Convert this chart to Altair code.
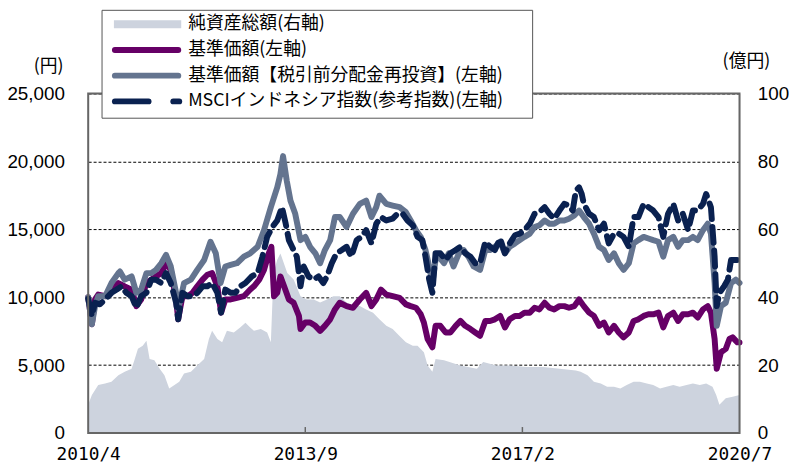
import altair as alt
import pandas as pd

# ---------------- data ----------------
x_ticks = [0, 41, 82, 123]                      # months since 2010/4
x_labels = ["2010/4", "2013/9", "2017/2", "2020/7"]
left_ticks = [0, 5000, 10000, 15000, 20000, 25000]
right_ticks = [0, 20, 40, 60, 80, 100]
series_names = ["純資産総額(右軸)", "基準価額(左軸)",
                "基準価額【税引前分配金再投資】(左軸)",
                "MSCIインドネシア指数(参考指数)(左軸)"]
left_unit = "(円)"
right_unit = "(億円)"

# 純資産総額 (億円)
assets_t = [0, 0.7, 1.9, 3.2, 4.4, 5.7, 6.9, 8.2, 8.8, 9.4,
            10.3, 11.0, 11.6, 12.5, 13.5, 14.4, 15.3, 16.3, 17.2, 18.1,
            19.4, 20.6, 21.9, 22.8, 23.4, 24.4, 25.3, 26.2, 27.5, 28.7,
            29.7, 30.6, 31.3, 32.6, 33.8, 34.5, 35.0, 35.7, 36.3, 37.6,
            38.8, 40.1, 41.3, 42.6, 43.8, 45.1, 46.3, 47.5, 48.8, 50.0,
            51.3, 52.5, 53.8, 55.0, 56.3, 57.5, 58.8, 60.0, 61.3, 62.2,
            63.4, 64.1, 65.0, 65.6, 67.2, 70.3, 73.4, 74.6, 77.1, 79.6,
            82.7, 85.9, 89.0, 92.1, 93.0, 94.3, 95.5, 96.8, 98.0, 99.3,
            100.5, 101.7, 103.0, 104.2, 105.5, 106.7, 108.0, 109.2, 110.5, 111.7,
            113.0, 114.2, 115.5, 116.7, 117.9, 118.6, 119.2, 120.4, 121.7, 123.0]
assets_v = [8.3, 11.2, 14.1, 14.6, 15.1, 17.0, 18.0, 18.9, 21.8, 24.8,
            25.7, 27.2, 21.8, 21.4, 18.9, 17.0, 13.1, 14.1, 15.1, 17.5,
            18.0, 19.9, 21.8, 27.7, 30.1, 27.7, 26.7, 30.1, 29.6, 31.1,
            32.5, 31.1, 30.1, 30.6, 29.6, 26.7, 47.1, 51.0, 52.9, 47.1,
            45.2, 40.3, 39.3, 39.3, 38.4, 39.3, 40.3, 40.3, 38.4, 37.4,
            37.4, 36.4, 35.4, 33.5, 31.6, 30.6, 28.6, 26.7, 25.7, 25.7,
            23.8, 19.9, 18.0, 21.8, 21.4, 19.9, 18.9, 20.9, 19.9, 19.9,
            19.4, 19.4, 18.9, 18.4, 18.0, 17.0, 15.1, 14.6, 13.6, 13.6,
            13.1, 14.1, 15.1, 15.1, 14.6, 14.1, 13.1, 13.6, 14.1, 13.6,
            14.1, 14.6, 14.1, 14.6, 13.6, 11.2, 8.3, 10.2, 10.7, 11.2]

# 基準価額 (円)
nav_t = [0, 0.7, 1.3, 1.9, 3.2, 4.4, 5.7, 6.9, 8.2, 9.1,
         10.0, 11.0, 11.9, 12.8, 13.8, 14.7, 15.6, 16.6, 17.0, 17.8,
         18.8, 19.7, 20.6, 21.6, 22.5, 23.4, 24.4, 25.1, 25.9, 26.9,
         28.1, 29.4, 30.6,
         31.3, 32.3, 33.2, 34.1, 34.6, 35.1, 35.7, 36.3, 37.0, 37.9,
         38.8, 39.8, 40.1, 41.0, 41.9, 42.9, 43.8, 44.7, 45.7, 46.6,
         47.5, 48.8, 50.0, 51.3, 52.5, 53.5, 54.4, 55.3, 56.3, 57.5,
         58.8, 60.0,
         60.9, 61.9, 62.8, 63.4, 64.1, 65.0, 65.6, 66.5, 67.5, 68.4,
         69.4, 70.3, 71.2, 72.2, 73.1, 74.0, 75.0, 75.9, 76.8, 77.8,
         78.7, 79.6, 80.6, 81.5, 82.4, 83.4, 84.3, 85.2, 86.2, 87.1,
         88.0, 89.0, 89.9, 90.8, 91.8,
         92.7, 93.6, 94.6, 95.5, 96.5, 97.4, 98.3, 99.3, 100.2, 101.1,
         102.1, 103.0, 103.9, 104.9, 105.8, 106.7, 107.7, 108.6, 109.5, 110.5,
         111.4, 112.3, 113.3, 114.2, 115.1, 116.1, 117.0, 117.6, 118.3, 118.7,
         119.5, 120.4, 121.1, 121.7, 122.6, 123.0]
nav_v = [10000, 8010, 9830, 10190, 10070, 10560, 11040, 10800, 10560, 9340,
         9830, 11040, 11290, 11530, 11770, 12500, 12010, 9830, 8370, 10070,
         10070, 10320, 10800, 11290, 11650, 11770, 10800, 8860, 9830, 9830,
         9950, 10070, 10560,
         10800, 11290, 12010, 13230, 13710, 10070, 10320, 11530, 10800, 9830,
         9590, 8620, 7650, 8130, 8130, 7890, 7520, 7890, 8370, 9100,
         9590, 9340, 9220, 9830, 10320, 9340, 9830, 10560, 10190, 10070,
         9950, 9470,
         9340, 9220, 8740, 8130, 6920, 6310, 7890, 7890, 7400, 7400,
         7890, 8250, 7890, 7650, 7400, 7160, 8250, 8250, 8370, 8620,
         7770, 8370, 8620, 8620, 8860, 8860, 9220, 9100, 9590, 9220,
         9100, 9340, 9340, 9220, 9340,
         9830, 9340, 8860, 8620, 7890, 8130, 7400, 7890, 7400, 7040,
         7400, 8250, 8370, 8620, 8740, 8740, 8860, 7770, 8620, 8860,
         8250, 8740, 8740, 8860, 8500, 9100, 9340, 8860, 6920, 4730,
         5950, 6190, 6920, 7040, 6670, 6670]

# 基準価額【税引前分配金再投資】 (円)
re_t = [0, 0.7, 1.3, 1.9, 3.2, 4.4, 5.7, 6.0, 6.9, 8.2,
        9.1, 10.0, 11.0, 11.9, 12.8, 13.8, 14.7, 15.6, 16.6, 17.0,
        18.1, 19.4, 20.6, 21.9, 23.1, 24.1, 25.0, 25.9, 26.9, 28.1,
        29.4, 30.6,
        32.0, 33.2, 34.5, 35.7, 36.3, 36.8, 37.5, 38.2, 39.1, 40.1,
        41.0, 41.9, 42.9, 43.8, 44.7, 45.7, 46.6, 47.5, 48.8, 50.0,
        51.3, 52.5, 53.5, 54.4, 55.0, 56.3, 57.5, 58.8, 60.0,
        60.9, 61.9, 62.8, 63.7, 64.4, 65.0, 65.6, 66.2, 67.2, 68.1,
        69.0, 70.0, 70.9, 71.8, 72.8, 74.0, 75.0, 75.9, 76.8, 77.8,
        78.7, 79.6, 80.6, 81.5, 82.4, 83.4, 84.3, 85.2, 86.2, 87.1,
        88.0, 89.0, 89.9, 90.8, 91.8,
        92.7, 93.6, 94.6, 95.5, 96.5, 97.4, 98.3, 99.3, 100.2, 101.1,
        102.1, 103.0, 103.9, 104.9, 105.8, 106.7, 107.7, 108.6, 109.5, 110.5,
        111.4, 112.3, 113.3, 114.2, 115.1, 116.1, 117.0, 117.6, 118.3, 118.7,
        119.5, 120.4, 121.4, 122.3, 123.0]
re_v = [10000, 8010, 9340, 10070, 10070, 11040, 11770, 11890, 11290, 11530,
        10320, 10560, 11770, 11770, 12010, 12500, 13110, 12260, 10320, 9100,
        11040, 11290, 12010, 12740, 14080, 13230, 11040, 12260, 12380, 12500,
        12980, 13230,
        13710, 14930, 16630, 18080, 19050, 20390, 18570, 17110, 16140, 14200,
        14440, 13710, 13230, 12500, 13470, 14200, 15900, 15900, 15170, 16140,
        16870, 17110, 15900, 16630, 17470, 16870, 16750, 16630, 16260,
        15650, 14930, 14440, 13470, 12260, 11040, 12740, 12980, 12500, 13230,
        12260, 13230, 13470, 12980, 12260, 12010, 13470, 13470, 13710, 14080,
        13230, 13710, 13960, 14200, 14440, 14680, 15170, 15290, 15650, 15410,
        15410, 15650, 15650, 15780, 16020,
        16380, 15900, 15410, 14680, 13710, 13470, 12740, 13230, 12500, 12010,
        12500, 13960, 14200, 14440, 14320, 14200, 14080, 12980, 14200, 14440,
        13710, 14200, 14200, 14440, 14200, 14930, 15410, 14680, 11040, 7890,
        9340, 9590, 11040, 11290, 11040]

# MSCIインドネシア指数 (参考指数)
msci_t = [0, 0.7, 1.3, 2.2, 3.2, 4.4, 5.4, 6.3, 7.2, 8.2,
          9.1, 10.0, 11.0, 11.9, 12.8, 13.8, 14.7, 15.6, 16.6, 17.0,
          17.8, 18.8, 19.7, 20.6, 21.6, 22.5, 23.4, 24.4, 25.1, 25.9,
          26.9, 27.8, 28.7, 29.7, 30.9,
          32.0, 32.9, 33.8, 34.8, 35.7, 36.6, 37.3, 37.9, 38.5, 39.4,
          40.1, 40.7, 41.6, 42.6, 43.5, 44.4, 45.1, 46.0, 46.9, 47.9,
          48.8, 49.7, 50.7, 51.6, 52.5, 53.5, 54.4, 55.3, 56.3, 57.5,
          58.4, 59.4, 60.3,
          61.3, 62.2, 63.1, 63.7, 64.4, 65.0, 65.6, 66.5, 67.5, 68.4,
          69.4, 70.3, 71.2, 72.2, 73.1, 74.0, 75.0, 75.9, 76.8, 77.8,
          78.7, 79.6, 80.6, 81.5, 82.4, 83.4, 84.3, 85.2, 86.2, 87.1,
          88.0, 89.0, 89.9, 90.8, 91.5, 92.1,
          92.7, 93.2, 93.6, 94.6, 95.5, 96.5, 97.4, 98.3, 99.3, 100.2,
          101.1, 102.1, 103.0, 103.9, 104.9, 105.8, 106.7, 107.7, 108.6, 109.5,
          110.5, 111.4, 112.3, 113.3, 114.2, 115.1, 116.1, 116.7, 117.6, 118.3,
          118.7, 119.2, 120.1, 120.8, 121.4, 122.3, 123.0]
msci_v = [9900, 8620, 9590, 9470, 9830, 10320, 10560, 10800, 10320, 10070,
          9220, 10070, 10320, 11290, 11290, 11040, 11770, 11040, 9590, 8370,
          10320, 10070, 10070, 10320, 10800, 10800, 11040, 10320, 8860, 10560,
          10320, 10320, 10800, 11040, 11530,
          11770, 12980, 14440, 15170, 15650, 16630, 15410, 14200, 13710, 12980,
          10800, 12260, 11530, 11290, 11530, 11040, 11530, 12500, 13230, 13470,
          13710, 12980, 14200, 14440, 14930, 13960, 15410, 15900, 15650, 15780,
          16140, 16140, 15650,
          15290, 14440, 14200, 12980, 11290, 10320, 13230, 13230, 12740, 13230,
          13470, 13710, 13230, 12980, 12500, 12500, 14080, 13710, 13470, 14320,
          13230, 13960, 14560, 14680, 14930, 15410, 16140, 16260, 16630, 16140,
          15780, 16380, 16870, 16750, 16380, 17840,
          18080, 17600, 16870, 16140, 15900, 14930, 15410, 13960, 14680, 14680,
          14440, 13710, 15900, 15900, 16870, 16630, 16380, 15900, 14440, 16140,
          16870, 15650, 16140, 14930, 16380, 16380, 16870, 17600, 16630, 12980,
          9340, 10320, 10800, 11290, 12740, 12740, 12740]

# ---------------- styling ----------------
W, H = 658, 343
C_AREA = "#CDD3DE"
C_NAV = "#660066"
C_RE = "#64748F"
C_MSCI = "#0A2150"
C_FRAME = "#666666"
JP = "Noto Sans CJK JP"
NUM = "Liberation Sans"
XFONT = "DejaVu Sans Mono"

label_expr = " : ".join(f"datum.value == {t} ? '{l}'" for t, l in zip(x_ticks, x_labels)) + " : ''"

x_scale = alt.Scale(domain=[x_ticks[0], x_ticks[-1]], nice=False, zero=False)
x_axis = alt.Axis(values=x_ticks, labelExpr=label_expr, grid=False, domain=False,
                  ticks=False, tickSize=0, labelPadding=13, labelFont=XFONT,
                  labelFontSize=18, labelColor="black", title=None,
                  labelFlush=False, labelOverlap=False)


def X():
    return alt.X("t:Q", scale=x_scale, axis=x_axis)


yl_scale = alt.Scale(domain=[0, 25000], nice=False)
yl_axis = alt.Axis(orient="left", values=left_ticks,
                   labelExpr="format(datum.value, ',')", grid=True,
                   gridColor="black", gridDash=[3, 2], gridWidth=1, domain=False,
                   ticks=False, tickSize=0, labelPadding=24, labelFont=NUM,
                   labelFontSize=19, labelColor="black", title=None)
yr_scale = alt.Scale(domain=[0, 100], nice=False)
yr_axis = alt.Axis(orient="right", values=right_ticks, grid=False, domain=False,
                   ticks=False, tickSize=0, labelPadding=18, labelFont=NUM,
                   labelFontSize=19, labelColor="black", title=None)

adf = pd.DataFrame({"t": assets_t, "v": assets_v})
ndf = pd.DataFrame({"t": nav_t, "v": nav_v})
rdf = pd.DataFrame({"t": re_t, "v": re_v})
mdf = pd.DataFrame({"t": msci_t, "v": msci_v})
one = pd.DataFrame({"k": [0]})

area = alt.Chart(adf).mark_area(color=C_AREA, opacity=1).encode(
    x=X(), y=alt.Y("v:Q", scale=yr_scale, axis=yr_axis))


def line(df, color, dash=None):
    kw = dict(color=color, strokeWidth=6, strokeCap="round", strokeJoin="round")
    if dash:
        kw["strokeDash"] = dash
    return alt.Chart(df).mark_line(**kw).encode(
        x=X(), y=alt.Y("v:Q", scale=yl_scale, axis=yl_axis))


lines = alt.layer(line(ndf, C_NAV), line(rdf, C_RE), line(mdf, C_MSCI, [16, 8]))

tick_df = pd.DataFrame({"t": x_ticks[1:-1]})
xticks = alt.Chart(tick_df).mark_rule(color=C_FRAME, strokeWidth=1.5).encode(
    x=X(), y=alt.value(H - 6), y2=alt.value(H))

frame = alt.Chart(one).mark_rect(fill="transparent", stroke=C_FRAME, strokeWidth=2).encode(
    x=alt.value(0), x2=alt.value(W), y=alt.value(0), y2=alt.value(H))

# legend (drawn by hand)
box = alt.Chart(one).mark_rect(fill="white", stroke="#555555", strokeWidth=1).encode(
    x=alt.value(14), x2=alt.value(449), y=alt.value(-84), y2=alt.value(25))
row_y = [-70, -44, -18, 8]
sw_area = alt.Chart(one).mark_rect(fill=C_AREA).encode(
    x=alt.value(26), x2=alt.value(94), y=alt.value(row_y[0] - 4), y2=alt.value(row_y[0] + 4))


def sw_line(color, x1, x2, y):
    return alt.Chart(one).mark_rule(color=color, strokeWidth=6, strokeCap="round").encode(
        x=alt.value(x1), x2=alt.value(x2), y=alt.value(y))


sw2 = sw_line(C_NAV, 27, 91, row_y[1])
sw3 = sw_line(C_RE, 27, 91, row_y[2])
sw4a = sw_line(C_MSCI, 27, 61, row_y[3])
sw4b = sw_line(C_MSCI, 86, 92, row_y[3])

texts = [alt.Chart(one).mark_text(align="left", baseline="middle", font=JP, fontSize=18,
                                  color="black", text=name).encode(
    x=alt.value(101), y=alt.value(yy)) for name, yy in zip(series_names, row_y)]

unit_l = alt.Chart(one).mark_text(align="center", baseline="middle", font=JP, fontSize=18,
                                  color="black", text=left_unit).encode(
    x=alt.value(-40), y=alt.value(-27))
unit_r = alt.Chart(one).mark_text(align="center", baseline="middle", font=JP, fontSize=18,
                                  color="black", text=right_unit).encode(
    x=alt.value(665), y=alt.value(-32))

chart = alt.layer(area, lines, xticks, frame, box, sw_area, sw2, sw3, sw4a, sw4b,
                  *texts, unit_l, unit_r).resolve_scale(y="independent").properties(
    width=W, height=H,
    autosize=alt.AutoSizeParams(type="none"),
    padding={"left": 81, "top": 84, "right": 50, "bottom": 30},
).configure_view(stroke="transparent").configure(background="white")

chart.save("out.html", embed_options={"renderer": "svg", "actions": False})
